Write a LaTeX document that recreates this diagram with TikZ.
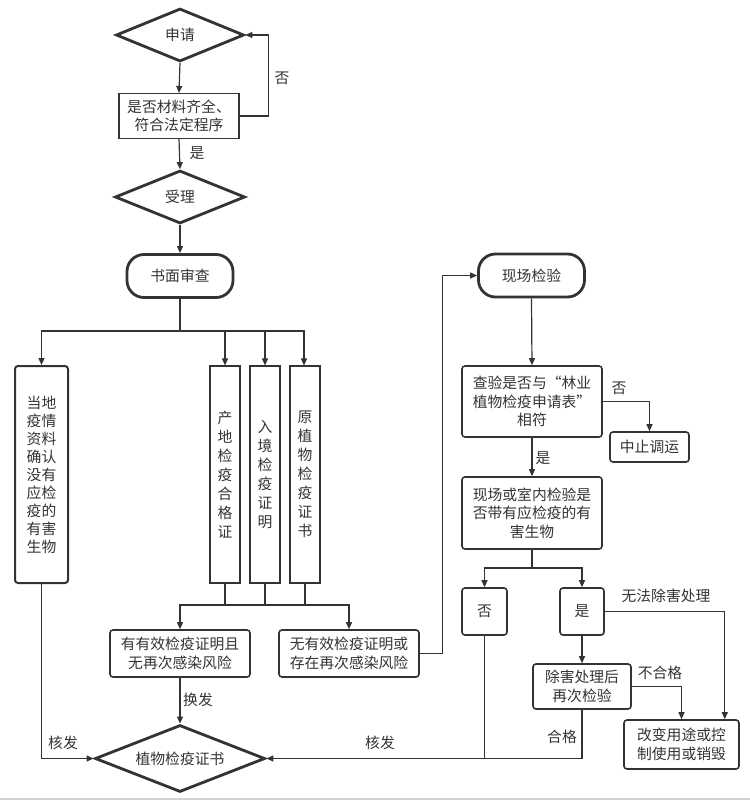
\documentclass[tikz,border=0pt]{standalone}
\usepackage{fontspec}
\setmainfont{Noto Sans CJK SC}
\usetikzlibrary{shapes.geometric,arrows.meta}
\definecolor{ln}{HTML}{333333}
\definecolor{tx}{HTML}{333333}
\begin{document}
\begin{tikzpicture}[x=1pt,y=-1pt,
  font=\fontsize{14.8}{18.5}\selectfont, text=tx,
  dia/.style={shape=diamond, shape aspect=2.4, draw=ln, line width=2.8pt, inner sep=0pt, minimum width=128pt, minimum height=53pt},
  term/.style={rectangle, draw=ln, line width=2.8pt, rounded corners=17pt, minimum width=106pt, minimum height=43pt, inner sep=0pt},
  sqbox/.style={rectangle, draw=ln, line width=1.1pt, align=center, inner sep=0pt},
  rbox/.style={rectangle, draw=ln, line width=1.6pt, rounded corners=3pt, align=center, inner sep=0pt},
  arr/.style={draw=ln, line width=1.2pt, -{Triangle[length=7pt,width=6pt]}},
  lin/.style={draw=ln, line width=1.2pt},
  lbl/.style={inner sep=0pt}]
\useasboundingbox (0,0) rectangle (750,801);
\draw[draw={rgb,255:red,210;green,210;blue,210}, line width=1.5pt] (0,799) -- (750,799);

% left column
\node[dia] (apply) at (180,35) {申请};
\node[sqbox, minimum width=120pt, minimum height=45pt] (check) at (179,116) {是否材料齐全、\\符合法定程序};
\node[dia, minimum width=130pt] (accept) at (180,197) {受理};
\node[term] (review) at (180,276) {书面审查};
\node[rbox, line width=2pt, minimum width=53pt, minimum height=217pt, font=\fontsize{14.8}{18}\selectfont] (local) at (41.5,474.5) {当地\\疫情\\资料\\确认\\没有\\应检\\疫的\\有害\\生物};
\node[sqbox, minimum width=30pt, minimum height=217pt, font=\fontsize{14.8}{19}\selectfont] (c1) at (225,474.5) {产\\地\\检\\疫\\合\\格\\证};
\node[sqbox, minimum width=30pt, minimum height=217pt, font=\fontsize{14.8}{19}\selectfont] (c2) at (265,474.5) {入\\境\\检\\疫\\证\\明};
\node[sqbox, minimum width=30pt, minimum height=217pt, font=\fontsize{14.8}{19}\selectfont] (c3) at (305,474.5) {原\\植\\物\\检\\疫\\证\\书};
\node[rbox, minimum width=140pt, minimum height=47pt] (valid) at (180,653.5) {有有效检疫证明且\\无再次感染风险};
\node[rbox, minimum width=140pt, minimum height=47pt] (invalid) at (349,653.5) {无有效检疫证明或\\存在再次感染风险};
\node[dia, minimum width=170pt, minimum height=67pt] (cert) at (180,758.5) {植物检疫证书};

% right column
\node[term] (onsite) at (531.5,275.5) {现场检验};
\node[rbox, minimum width=140pt, minimum height=71pt] (verify) at (532,401.5) {查验是否与“林业\\植物检疫申请表”\\相符};
\node[rbox, minimum width=79pt, minimum height=30pt] (stop) at (649.5,447) {中止调运};
\node[rbox, minimum width=140pt, minimum height=72pt] (inspect) at (532,513) {现场或室内检验是\\否带有应检疫的有\\害生物};
\node[rbox, minimum width=45pt, minimum height=47pt] (no) at (484.5,611.5) {否};
\node[rbox, minimum width=44pt, minimum height=47pt] (yes) at (582,611.5) {是};
\node[rbox, minimum width=98pt, minimum height=45pt] (treat) at (582,686.5) {除害处理后\\再次检验};
\node[rbox, minimum width=115pt, minimum height=49pt] (change) at (681.5,744.5) {改变用途或控\\制使用或销毁};

% connectors, left
\draw[arr] (apply.south) -- (check.north);
\draw[arr] (check.east) -- ++(29,0) |- (apply.east);
\node[lbl] (lno1) at (282,78) {否};
\draw[arr] (check.south) -- (accept.north);
\node[lbl] (lyes1) at (197,153) {是};
\draw[arr] (accept.south) -- (review.north);
\coordinate (bus1) at (180,331);
\draw[lin] (review.south) -- (bus1);
\draw[arr] (bus1) -| (local.north);
\draw[arr] (bus1) -| (c1.north);
\draw[arr] (bus1) -| (c2.north);
\draw[arr] (bus1) -| ([xshift=-1pt]c3.north);
\coordinate (bus2) at (265,605);
\draw[lin] (c1.south) -- (c1.south |- bus2);
\draw[lin] (c2.south) -- (bus2);
\draw[lin] (c3.south) -- (c3.south |- bus2);
\draw[arr] (bus2) -| (valid.north);
\draw[arr] (bus2) -| (invalid.north);
\draw[arr] (invalid.east) -- ++(23,0) |- (onsite.west);
\draw[arr] (valid.south) -- (cert.north);
\node[lbl] (lswap) at (198,700) {换发};
\draw[arr] (local.south) |- (cert.west);
\node[lbl] (liss1) at (63,743) {核发};

% connectors, right
\draw[arr] (onsite.south) -- (verify.north);
\draw[arr] (verify.east) -| (stop.north);
\node[lbl] (lno2) at (619,388) {否};
\draw[arr] (verify.south) -- (inspect.north);
\node[lbl] (lyes2) at (543,458) {是};
\coordinate (bus3) at (532,568);
\draw[lin] (inspect.south) -- (bus3);
\draw[arr] (bus3) -| (no.north);
\draw[arr] (bus3) -| (yes.north);
\draw[arr] (yes.east) -| ([xshift=-15pt]change.north east);
\node[lbl] (lcant) at (666,596) {无法除害处理};
\draw[arr] (yes.south) -- (treat.north);
\draw[arr] (treat.east) -| (change.north);
\node[lbl] (lfail) at (660,673) {不合格};
\draw[arr] (treat.south) |- (cert.east);
\node[lbl] (lpass) at (562,737) {合格};
\draw[lin] (no.south) -- (no.south |- cert.east);
\node[lbl] (liss2) at (380,743) {核发};
\end{tikzpicture}
\end{document}
